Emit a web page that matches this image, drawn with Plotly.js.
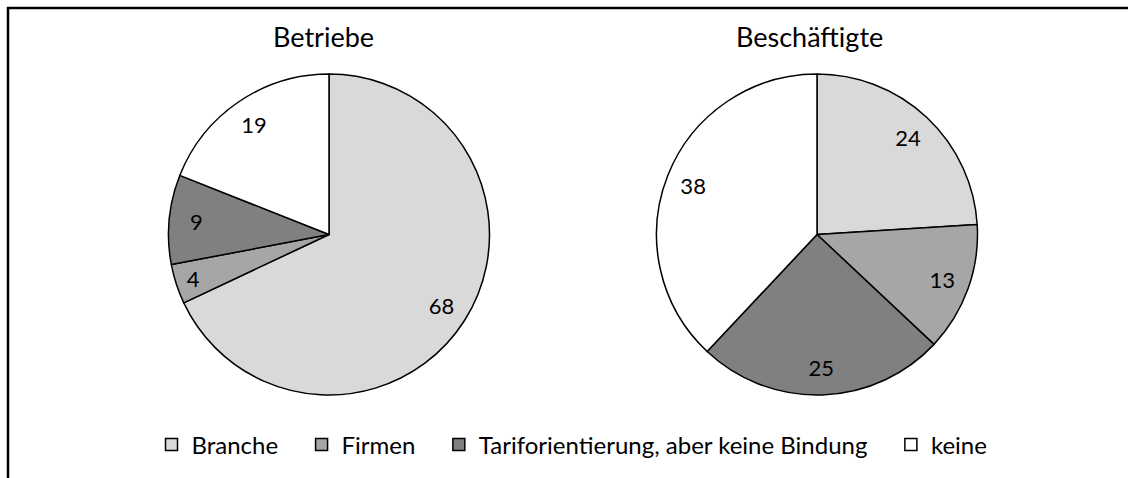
<!DOCTYPE html>
<html>
<head>
<meta charset="utf-8">
<script src="https://cdn.plot.ly/plotly-3.0.1.min.js"></script>
<style>
  html, body { margin: 0; padding: 0; background: #ffffff; }
  #chart { width: 1128px; height: 478px; }
</style>
</head>
<body>
<div id="chart"></div>
<script>
// Data
const categories = ["Branche", "Firmen", "Tariforientierung, aber keine Bindung", "keine"];
const betriebe = [68, 4, 9, 19];
const beschaeftigte = [24, 13, 25, 38];
const panelTitles = ["Betriebe", "Beschäftigte"];
const sliceColors = ["#d9d9d9", "#a6a6a6", "#808080", "#ffffff"];

const W = 1128, H = 478;
const FONT = "Lato, 'Open Sans', sans-serif";
const PAD = "\u00a0\u00a0\u00a0";
const DOMAIN_Y = [1 - 395 / H, 1 - 74 / H];

function pieTrace(values, domainX, showlegend) {
  return {
    type: "pie",
    labels: categories,
    values: values,
    sort: false,
    direction: "clockwise",
    rotation: 0,
    domain: { x: domainX, y: DOMAIN_Y },
    marker: { colors: sliceColors, line: { color: "#000000", width: 1.5 } },
    textinfo: "none",
    hoverinfo: "none",
    showlegend: showlegend
  };
}

// transparent ring overlay that carries the value labels near the rim
function labelTrace(values, domainX) {
  return {
    type: "pie",
    labels: categories,
    values: values,
    sort: false,
    direction: "clockwise",
    rotation: 0,
    hole: 0.66,
    domain: { x: domainX, y: DOMAIN_Y },
    marker: { colors: ["rgba(0,0,0,0)", "rgba(0,0,0,0)", "rgba(0,0,0,0)", "rgba(0,0,0,0)"],
              line: { width: 0 } },
    texttemplate: "%{value}",
    textposition: "inside",
    insidetextorientation: "horizontal",
    textfont: { family: FONT, size: 22, color: "#000000" },
    hoverinfo: "none",
    showlegend: false
  };
}

const leftX = [167 / W, 491 / W];
const rightX = [655 / W, 979 / W];

const data = [
  pieTrace(betriebe, leftX, true),
  pieTrace(beschaeftigte, rightX, false),
  labelTrace(betriebe, leftX),
  labelTrace(beschaeftigte, rightX)
];
const legendLabels = categories.map((c, i) => i < categories.length - 1 ? c + PAD : c);
data.forEach(t => { t.labels = legendLabels; });

const layout = {
  width: W,
  height: H,
  margin: { l: 0, r: 0, t: 0, b: 0 },
  paper_bgcolor: "#ffffff",
  plot_bgcolor: "#ffffff",
  font: { family: FONT, color: "#000000" },
  showlegend: true,
  legend: {
    orientation: "h",
    x: 572 / W,
    xanchor: "center",
    y: 1 - 445 / H,
    yanchor: "middle",
    font: { family: FONT, size: 24, color: "#000000" },
    traceorder: "normal",
    itemclick: false
  },
  annotations: [
    { text: panelTitles[0], x: 323.5 / W, y: 1 - 37 / H, xref: "paper", yref: "paper",
      showarrow: false, xanchor: "center", yanchor: "middle",
      font: { family: FONT, size: 27, color: "#000000" } },
    { text: panelTitles[1], x: 809 / W, y: 1 - 37 / H, xref: "paper", yref: "paper",
      showarrow: false, xanchor: "center", yanchor: "middle",
      font: { family: FONT, size: 27, color: "#000000" } }
  ],
  shapes: [
    { type: "line", xref: "paper", yref: "paper", x0: 7 / W, x1: 1, y0: 1 - 8 / H, y1: 1 - 8 / H,
      line: { color: "#000000", width: 2.5 } },
    { type: "line", xref: "paper", yref: "paper", x0: 8 / W, x1: 8 / W, y0: 0, y1: 1 - 7 / H,
      line: { color: "#000000", width: 2.5 } }
  ]
};

Plotly.newPlot("chart", data, layout, { displayModeBar: false, staticPlot: true });
</script>
</body>
</html>
